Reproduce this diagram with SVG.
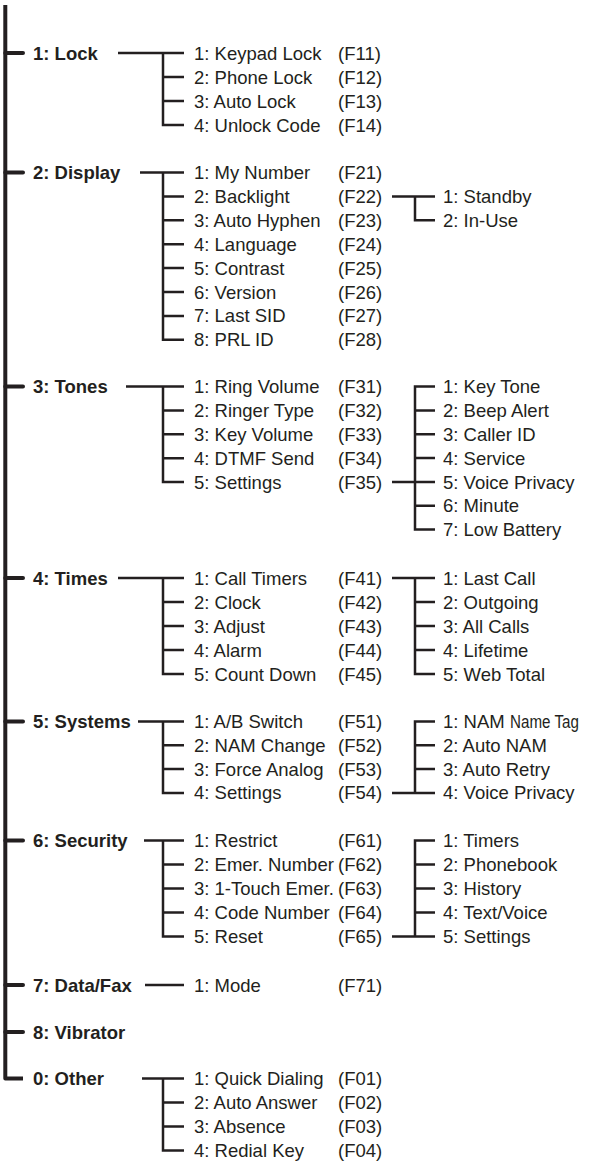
<svg xmlns="http://www.w3.org/2000/svg" width="589" height="1164" viewBox="0 0 589 1164">
<style>
text{font-family:"Liberation Sans",Arial,sans-serif;font-size:18.5px;fill:#231f20}
.b{font-weight:bold}
.c{fill:none;stroke:#231f20;stroke-width:2.5;stroke-linejoin:miter}
.m{fill:none;stroke:#231f20;stroke-width:4;stroke-linejoin:round}
.k{fill:none;stroke:#231f20;stroke-width:4;stroke-linecap:round}
</style>
<rect width="589" height="1164" fill="#fff"/>
<g id="connectors">
<path class="m" d="M5.3 5 V1078.5 H23"/>
<path class="k" d="M5.3 53 H23 M5.3 172.5 H23 M5.3 386.5 H23 M5.3 578 H23 M5.3 721.5 H23 M5.3 840.5 H23 M5.3 985 H23 M5.3 1032 H23"/>
<path class="c" d="M118 53 H184 M163 53 V125 H184 M163 77 H184 M163 101 H184"/>
<path class="c" d="M140 172.5 H184 M163 172.5 V339.8 H184 M163 196.4 H184 M163 220.3 H184 M163 244.2 H184 M163 268.1 H184 M163 292 H184 M163 315.9 H184"/>
<path class="c" d="M392 196.4 H435 M415 196.4 V220.3 H435"/>
<path class="c" d="M126 386.5 H184 M163 386.5 V482.1 H184 M163 410.4 H184 M163 434.3 H184 M163 458.2 H184"/>
<path class="c" d="M435 386.5 H415 V529.6 H435 M415 410.4 H435 M415 434.2 H435 M415 458 H435 M392 482 H435 M415 505.8 H435"/>
<path class="c" d="M118 578 H184 M163 578 V674 H184 M163 602 H184 M163 626 H184 M163 650 H184"/>
<path class="c" d="M392 578 H435 M415 578 V674 H435 M415 602 H435 M415 626 H435 M415 650 H435"/>
<path class="c" d="M138 721.5 H184 M163 721.5 V792.9 H184 M163 745.3 H184 M163 769.1 H184"/>
<path class="c" d="M435 721.5 H415 V792.9 M392 792.9 H435 M415 745.3 H435 M415 769.1 H435"/>
<path class="c" d="M144 840.5 H184 M163 840.5 V936.5 H184 M163 864.5 H184 M163 888.5 H184 M163 912.5 H184"/>
<path class="c" d="M435 840.5 H415 V936.5 M392 936.5 H435 M415 864.5 H435 M415 888.5 H435 M415 912.5 H435"/>
<path class="c" d="M145 985 H184"/>
<path class="c" d="M142 1078.5 H184 M163 1078.5 V1150.5 H184 M163 1102.5 H184 M163 1126.5 H184"/>
</g>
<g id="lock">
<text class="b" x="33" y="59.5">1: Lock</text>
<text x="194" y="59.5">1: Keypad Lock</text><text x="338" y="59.5">(F11)</text>
<text x="194" y="83.5">2: Phone Lock</text><text x="338" y="83.5">(F12)</text>
<text x="194" y="107.5">3: Auto Lock</text><text x="338" y="107.5">(F13)</text>
<text x="194" y="131.5">4: Unlock Code</text><text x="338" y="131.5">(F14)</text>
</g>
<g id="display">
<text class="b" x="33" y="179">2: Display</text>
<text x="194" y="179">1: My Number</text><text x="338" y="179">(F21)</text>
<text x="194" y="202.9">2: Backlight</text><text x="338" y="202.9">(F22)</text>
<text x="194" y="226.8">3: Auto Hyphen</text><text x="338" y="226.8">(F23)</text>
<text x="194" y="250.7">4: Language</text><text x="338" y="250.7">(F24)</text>
<text x="194" y="274.6">5: Contrast</text><text x="338" y="274.6">(F25)</text>
<text x="194" y="298.5">6: Version</text><text x="338" y="298.5">(F26)</text>
<text x="194" y="322.4">7: Last SID</text><text x="338" y="322.4">(F27)</text>
<text x="194" y="346.3">8: PRL ID</text><text x="338" y="346.3">(F28)</text>
</g>
<g id="backlight">
<text x="443" y="202.9">1: Standby</text>
<text x="443" y="226.8">2: In-Use</text>
</g>
<g id="tones">
<text class="b" x="33" y="393">3: Tones</text>
<text x="194" y="393">1: Ring Volume</text><text x="338" y="393">(F31)</text>
<text x="194" y="416.9">2: Ringer Type</text><text x="338" y="416.9">(F32)</text>
<text x="194" y="440.8">3: Key Volume</text><text x="338" y="440.8">(F33)</text>
<text x="194" y="464.7">4: DTMF Send</text><text x="338" y="464.7">(F34)</text>
<text x="194" y="488.6">5: Settings</text><text x="338" y="488.6">(F35)</text>
</g>
<g id="tones-settings">
<text x="443" y="393">1: Key Tone</text>
<text x="443" y="416.9">2: Beep Alert</text>
<text x="443" y="440.7">3: Caller ID</text>
<text x="443" y="464.5">4: Service</text>
<text x="443" y="488.5">5: Voice Privacy</text>
<text x="443" y="512.3">6: Minute</text>
<text x="443" y="536.1">7: Low Battery</text>
</g>
<g id="times">
<text class="b" x="33" y="584.5">4: Times</text>
<text x="194" y="584.5">1: Call Timers</text><text x="338" y="584.5">(F41)</text>
<text x="194" y="608.5">2: Clock</text><text x="338" y="608.5">(F42)</text>
<text x="194" y="632.5">3: Adjust</text><text x="338" y="632.5">(F43)</text>
<text x="194" y="656.5">4: Alarm</text><text x="338" y="656.5">(F44)</text>
<text x="194" y="680.5">5: Count Down</text><text x="338" y="680.5">(F45)</text>
</g>
<g id="call-timers">
<text x="443" y="584.5">1: Last Call</text>
<text x="443" y="608.5">2: Outgoing</text>
<text x="443" y="632.5">3: All Calls</text>
<text x="443" y="656.5">4: Lifetime</text>
<text x="443" y="680.5">5: Web Total</text>
</g>
<g id="systems">
<text class="b" x="33" y="728">5: Systems</text>
<text x="194" y="728">1: A/B Switch</text><text x="338" y="728">(F51)</text>
<text x="194" y="751.8">2: NAM Change</text><text x="338" y="751.8">(F52)</text>
<text x="194" y="775.6">3: Force Analog</text><text x="338" y="775.6">(F53)</text>
<text x="194" y="799.4">4: Settings</text><text x="338" y="799.4">(F54)</text>
</g>
<g id="systems-settings">
<text x="443" y="728">1: NAM</text>
<text x="0" y="0" transform="translate(510 728) scale(0.82 1)">Name Tag</text>
<text x="443" y="751.8">2: Auto NAM</text>
<text x="443" y="775.6">3: Auto Retry</text>
<text x="443" y="799.4">4: Voice Privacy</text>
</g>
<g id="security">
<text class="b" x="33" y="847">6: Security</text>
<text x="194" y="847">1: Restrict</text><text x="338" y="847">(F61)</text>
<text x="194" y="871">2: Emer. Number</text><text x="338" y="871">(F62)</text>
<text x="194" y="895">3: 1-Touch Emer.</text><text x="338" y="895">(F63)</text>
<text x="194" y="919">4: Code Number</text><text x="338" y="919">(F64)</text>
<text x="194" y="943">5: Reset</text><text x="338" y="943">(F65)</text>
</g>
<g id="reset">
<text x="443" y="847">1: Timers</text>
<text x="443" y="871">2: Phonebook</text>
<text x="443" y="895">3: History</text>
<text x="443" y="919">4: Text/Voice</text>
<text x="443" y="943">5: Settings</text>
</g>
<g id="datafax">
<text class="b" x="33" y="991.5">7: Data/Fax</text>
<text x="194" y="991.5">1: Mode</text><text x="338" y="991.5">(F71)</text>
</g>
<g id="vibrator">
<text class="b" x="33" y="1038.5">8: Vibrator</text>
</g>
<g id="other">
<text class="b" x="33" y="1085">0: Other</text>
<text x="194" y="1085">1: Quick Dialing</text><text x="338" y="1085">(F01)</text>
<text x="194" y="1109">2: Auto Answer</text><text x="338" y="1109">(F02)</text>
<text x="194" y="1133">3: Absence</text><text x="338" y="1133">(F03)</text>
<text x="194" y="1157">4: Redial Key</text><text x="338" y="1157">(F04)</text>
</g>
</svg>
